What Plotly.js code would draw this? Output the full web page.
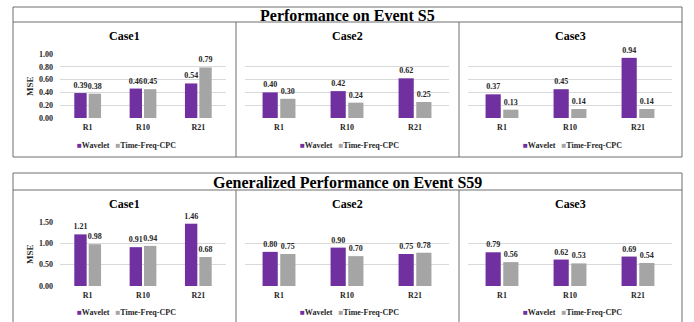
<!DOCTYPE html>
<html>
<head>
<meta charset="utf-8">
<script src="https://cdn.plot.ly/plotly-3.0.1.min.js"></script>
</head>
<body style="margin:0">
<div id="chart" style="width:694px;height:322px"></div>
<script>
// Mean squared error per run, two methods, three cases, two events
const categories = ['R1', 'R10', 'R21'];
const seriesNames = ['Wavelet', 'Time-Freq-CPC'];
const caseNames = ['Case1', 'Case2', 'Case3'];
const blockTitles = ['Performance on Event S5', 'Generalized Performance on Event S59'];

const s5Case1Wavelet = [0.39, 0.46, 0.54];
const s5Case1Cpc     = [0.38, 0.45, 0.79];
const s5Case2Wavelet = [0.40, 0.42, 0.62];
const s5Case2Cpc     = [0.30, 0.24, 0.25];
const s5Case3Wavelet = [0.37, 0.45, 0.94];
const s5Case3Cpc     = [0.13, 0.14, 0.14];

const s59Case1Wavelet = [1.21, 0.91, 1.46];
const s59Case1Cpc     = [0.98, 0.94, 0.68];
const s59Case2Wavelet = [0.80, 0.90, 0.75];
const s59Case2Cpc     = [0.75, 0.70, 0.78];
const s59Case3Wavelet = [0.79, 0.62, 0.69];
const s59Case3Cpc     = [0.56, 0.53, 0.54];

const W = 694, H = 322;
const px = x => x / W;
const py = y => 1 - y / H;

const SERIF = 'Liberation Serif';
const PURPLE = '#7030A0';
const GRAY = '#A5A5A5';
const LINE = '#6E6E6E';
const TEXT = '#262626';

function serifFont(size, color) {
  return { family: SERIF, size: size, color: color || TEXT, weight: 'bold' };
}

// panel geometry in pixels
const boxLeft = 13, boxRight = 682, div1 = 236, div2 = 459;
const cellCenters = [(boxLeft + div1) / 2, (div1 + div2) / 2, (div2 + boxRight) / 2];
const plotX = [[60, 226], [245, 449], [468, 672]];
const blocks = [
  { top: 7, titleBottom: 22, bottom: 157, plotTop: 54, plotBottom: 118, ymax: 1.0, dtick: 0.2,
    caseY: 36, legendY: 145, data: [[s5Case1Wavelet, s5Case1Cpc], [s5Case2Wavelet, s5Case2Cpc], [s5Case3Wavelet, s5Case3Cpc]] },
  { top: 173, titleBottom: 190, bottom: 340, plotTop: 222, plotBottom: 286, ymax: 1.5, dtick: 0.5,
    caseY: 204, legendY: 312, data: [[s59Case1Wavelet, s59Case1Cpc], [s59Case2Wavelet, s59Case2Cpc], [s59Case3Wavelet, s59Case3Cpc]] }
];

const traces = [];
const layout = {
  width: W, height: H,
  margin: { l: 0, r: 0, t: 0, b: 0 },
  paper_bgcolor: '#fff', plot_bgcolor: '#fff',
  showlegend: false,
  barmode: 'group', bargap: 0.48, bargroupgap: 0.14,
  shapes: [], annotations: []
};

let n = 0;
blocks.forEach((b, bi) => {
  // block frame, title row and cell dividers
  layout.shapes.push(
    { type: 'rect', xref: 'paper', yref: 'paper', x0: px(boxLeft), x1: px(boxRight), y0: py(b.bottom), y1: py(b.top), line: { color: LINE, width: 1 } },
    { type: 'line', xref: 'paper', yref: 'paper', x0: px(boxLeft), x1: px(boxRight), y0: py(b.titleBottom), y1: py(b.titleBottom), line: { color: LINE, width: 1 } },
    { type: 'line', xref: 'paper', yref: 'paper', x0: px(div1), x1: px(div1), y0: py(b.bottom), y1: py(b.titleBottom), line: { color: LINE, width: 1 } },
    { type: 'line', xref: 'paper', yref: 'paper', x0: px(div2), x1: px(div2), y0: py(b.bottom), y1: py(b.titleBottom), line: { color: LINE, width: 1 } }
  );
  layout.annotations.push({
    xref: 'paper', yref: 'paper', x: 0.5, y: py((b.top + b.titleBottom) / 2 + 0.5),
    xanchor: 'center', yanchor: 'middle', showarrow: false, text: blockTitles[bi],
    font: serifFont(16, '#000')
  });
  layout.annotations.push({
    xref: 'paper', yref: 'paper', x: px(30), y: py((b.plotTop + b.plotBottom) / 2),
    xanchor: 'center', yanchor: 'middle', showarrow: false, textangle: -90, text: 'MSE',
    font: serifFont(9)
  });

  b.data.forEach((pair, ci) => {
    n += 1;
    const xa = 'x' + (n === 1 ? '' : n), ya = 'y' + (n === 1 ? '' : n);
    const xKey = 'xaxis' + (n === 1 ? '' : n), yKey = 'yaxis' + (n === 1 ? '' : n);
    [PURPLE, GRAY].forEach((color, si) => {
      traces.push({
        type: 'bar', name: seriesNames[si], x: categories, y: pair[si],
        xaxis: xa, yaxis: ya, marker: { color: color, line: { width: 0 } },
        text: pair[si].map(v => v.toFixed(2)), textposition: 'outside', constraintext: 'none',
        cliponaxis: false, textfont: serifFont(8), hoverinfo: 'skip'
      });
    });
    layout[xKey] = {
      domain: [px(plotX[ci][0]), px(plotX[ci][1])], anchor: ya,
      showgrid: false, showline: false, zeroline: false, ticks: '', ticklabelstandoff: 3,
      tickfont: serifFont(8), fixedrange: true
    };
    layout[yKey] = {
      domain: [py(b.plotBottom), py(b.plotTop)], anchor: xa,
      range: [0, b.ymax], dtick: b.dtick, tick0: 0, tickformat: '.2f',
      showgrid: true, gridcolor: '#D9D9D9', gridwidth: 1, zeroline: false, showline: false, ticks: '',
      showticklabels: ci === 0, ticklabelstandoff: 6,
      tickfont: serifFont(8), fixedrange: true
    };
    layout.annotations.push({
      xref: 'paper', yref: 'paper', x: px(cellCenters[ci]), y: py(b.caseY),
      xanchor: 'center', yanchor: 'middle', showarrow: false, text: caseNames[ci],
      font: serifFont(12, '#000')
    });
    layout.annotations.push({
      xref: 'paper', yref: 'paper', x: px(cellCenters[ci] + 2), y: py(b.legendY),
      xanchor: 'center', yanchor: 'middle', showarrow: false,
      text: '<span style="color:' + PURPLE + '">\u25A0</span>' + seriesNames[0] +
            '\u00a0\u00a0\u00a0<span style="color:' + GRAY + '">\u25A0</span>' + seriesNames[1],
      font: serifFont(8)
    });
  });
});

Plotly.newPlot('chart', traces, layout, { staticPlot: true });
</script>
</body>
</html>
